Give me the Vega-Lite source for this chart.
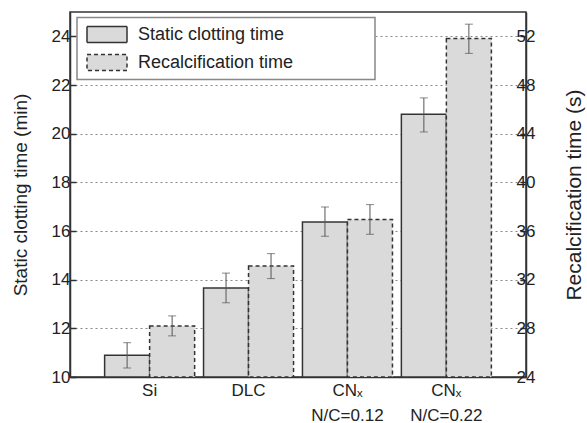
{
  "$schema": "https://vega.github.io/schema/vega-lite/v6.json",
  "width": 456,
  "height": 365,
  "autosize": {"type": "none"},
  "padding": {"left": 70, "top": 12, "right": 61, "bottom": 46},
  "background": "white",
  "config": {
    "font": "Liberation Sans",
    "view": {"stroke": "#333", "strokeWidth": 1.5},
    "axis": {"labelColor": "#222", "titleColor": "#222", "titleFontWeight": "normal", "domainColor": "#333", "domainWidth": 1.5, "tickColor": "#333", "tickWidth": 1.5},
    "legend": {
      "orient": "none", "legendX": 7, "legendY": 5.5,
      "fillColor": "white", "strokeColor": "#888", "strokeWidth": 1.5, "padding": 6,
      "symbolType": "M-2,-0.8H2V0.8H-2Z", "symbolSize": 400,
      "symbolStrokeColor": "#333", "symbolStrokeWidth": 1.5,
      "labelFontSize": 18, "labelColor": "#222", "rowPadding": 6,
      "symbolOffset": 13, "labelOffset": 20,
      "labelLimit": 400
    }
  },
  "data": {
    "values": [
      {"group": "Si", "series": "Static clotting time", "value": 10.89, "lo": 10.37, "hi": 11.41},
      {"group": "Si", "series": "Recalcification time", "value": 28.2, "lo": 27.38, "hi": 29.02},
      {"group": "DLC", "series": "Static clotting time", "value": 13.66, "lo": 13.05, "hi": 14.27},
      {"group": "DLC", "series": "Recalcification time", "value": 33.12, "lo": 32.09, "hi": 34.14},
      {"group": "CNₓ|N/C=0.12", "series": "Static clotting time", "value": 16.37, "lo": 15.78, "hi": 16.99},
      {"group": "CNₓ|N/C=0.12", "series": "Recalcification time", "value": 36.94, "lo": 35.73, "hi": 38.17},
      {"group": "CNₓ|N/C=0.22", "series": "Static clotting time", "value": 20.8, "lo": 20.07, "hi": 21.47},
      {"group": "CNₓ|N/C=0.22", "series": "Recalcification time", "value": 51.82, "lo": 50.6, "hi": 53.0}
    ]
  },
  "encoding": {
    "x": {
      "field": "group", "type": "nominal",
      "sort": ["Si", "DLC", "CNₓ|N/C=0.12", "CNₓ|N/C=0.22"],
      "scale": {"paddingInner": 0.09, "paddingOuter": 0.35},
      "axis": {"title": null, "labelAngle": 0, "ticks": false, "labelExpr": "split(datum.label, '|')", "labelFontSize": 17, "labelPadding": 5, "labelLineHeight": 25, "labelBaseline": "top"}
    },
    "xOffset": {
      "field": "series", "type": "nominal",
      "sort": ["Static clotting time", "Recalcification time"],
      "scale": {"paddingInner": 0, "paddingOuter": 0}
    }
  },
  "layer": [
    {
      "transform": [{"filter": "datum.series === 'Static clotting time'"}],
      "layer": [
        {
          "mark": {"type": "bar", "stroke": "#333", "strokeWidth": 1.5},
          "encoding": {
            "y": {
              "field": "value", "type": "quantitative",
              "scale": {"domain": [10, 25], "nice": false, "zero": false},
              "axis": {
                "title": "Static clotting time (min)", "titleFontSize": 19, "titlePadding": 21,
                "values": [10, 11, 12, 13, 14, 15, 16, 17, 18, 19, 20, 21, 22, 23, 24],
                "labelExpr": "datum.value % 2 == 0 ? datum.label : ''",
                "labelFontSize": 17, "labelPadding": 6,
                "tickSize": {"condition": {"test": "datum.value % 2 == 0", "value": -6}, "value": -3},
                "grid": true, "gridDash": [2, 3], "gridColor": "#888", "gridWidth": 1,
                "gridOpacity": {"condition": {"test": "datum.value % 2 == 0 && datum.value > 10", "value": 1}, "value": 0}
              }
            },
            "y2": {"datum": 10},
            "fill": {"field": "series", "type": "nominal", "scale": {"domain": ["Static clotting time", "Recalcification time"], "range": ["#dadada", "#dadada"]}, "title": null,
              "legend": {"encode": {"symbols": {"update": {"stroke": {"value": "#333"}, "strokeWidth": {"value": 1.5}}}, "labels": {"update": {"text": {"signal": "datum.label + '\u00a0\u00a0\u00a0\u00a0\u00a0\u00a0\u00a0\u00a0\u00a0\u00a0\u00a0\u00a0\u00a0\u00a0\u00a0\u200b'"}}}}}},
            "strokeDash": {"field": "series", "type": "nominal", "scale": {"domain": ["Static clotting time", "Recalcification time"], "range": [[1, 0], [4, 3]]}, "title": null,
              "legend": {"encode": {"symbols": {"update": {"stroke": {"value": "#333"}, "strokeWidth": {"value": 1.5}}}, "labels": {"update": {"text": {"signal": "datum.label + '\u00a0\u00a0\u00a0\u00a0\u00a0\u00a0\u00a0\u00a0\u00a0\u00a0\u00a0\u00a0\u00a0\u00a0\u00a0\u200b'"}}}}}}
          }
        },
        {
          "mark": {"type": "rule", "color": "#555", "strokeWidth": 1},
          "encoding": {
            "y": {"field": "lo", "type": "quantitative", "scale": {"domain": [10, 25], "nice": false, "zero": false}},
            "y2": {"field": "hi"}
          }
        },
        {
          "mark": {"type": "tick", "color": "#555", "size": 8, "thickness": 1},
          "encoding": {"y": {"field": "lo", "type": "quantitative", "scale": {"domain": [10, 25], "nice": false, "zero": false}}}
        },
        {
          "mark": {"type": "tick", "color": "#555", "size": 8, "thickness": 1},
          "encoding": {"y": {"field": "hi", "type": "quantitative", "scale": {"domain": [10, 25], "nice": false, "zero": false}}}
        }
      ]
    },
    {
      "transform": [{"filter": "datum.series === 'Recalcification time'"}],
      "layer": [
        {
          "mark": {"type": "bar", "stroke": "#333", "strokeWidth": 1.5},
          "encoding": {
            "y": {
              "field": "value", "type": "quantitative",
              "scale": {"domain": [24, 54], "nice": false, "zero": false},
              "axis": {
                "orient": "right",
                "title": "Recalcification time (s)", "titleFontSize": 21, "titlePadding": 50, "titleAngle": 270,
                "values": [24, 26, 28, 30, 32, 34, 36, 38, 40, 42, 44, 46, 48, 50, 52],
                "labelExpr": "datum.value % 4 == 0 ? datum.label : ''",
                "labelFontSize": 17, "labelPadding": -4,
                "tickSize": {"condition": {"test": "datum.value % 4 == 0", "value": -6}, "value": -3},
                "grid": false
              }
            },
            "y2": {"datum": 24},
            "fill": {"field": "series", "type": "nominal", "scale": {"domain": ["Static clotting time", "Recalcification time"], "range": ["#dadada", "#dadada"]}, "title": null,
              "legend": {"encode": {"symbols": {"update": {"stroke": {"value": "#333"}, "strokeWidth": {"value": 1.5}}}, "labels": {"update": {"text": {"signal": "datum.label + '\u00a0\u00a0\u00a0\u00a0\u00a0\u00a0\u00a0\u00a0\u00a0\u00a0\u00a0\u00a0\u00a0\u00a0\u00a0\u200b'"}}}}}},
            "strokeDash": {"field": "series", "type": "nominal", "scale": {"domain": ["Static clotting time", "Recalcification time"], "range": [[1, 0], [4, 3]]}, "title": null,
              "legend": {"encode": {"symbols": {"update": {"stroke": {"value": "#333"}, "strokeWidth": {"value": 1.5}}}, "labels": {"update": {"text": {"signal": "datum.label + '\u00a0\u00a0\u00a0\u00a0\u00a0\u00a0\u00a0\u00a0\u00a0\u00a0\u00a0\u00a0\u00a0\u00a0\u00a0\u200b'"}}}}}}
          }
        },
        {
          "mark": {"type": "rule", "color": "#555", "strokeWidth": 1},
          "encoding": {
            "y": {"field": "lo", "type": "quantitative", "scale": {"domain": [24, 54], "nice": false, "zero": false}},
            "y2": {"field": "hi"}
          }
        },
        {
          "mark": {"type": "tick", "color": "#555", "size": 8, "thickness": 1},
          "encoding": {"y": {"field": "lo", "type": "quantitative", "scale": {"domain": [24, 54], "nice": false, "zero": false}}}
        },
        {
          "mark": {"type": "tick", "color": "#555", "size": 8, "thickness": 1},
          "encoding": {"y": {"field": "hi", "type": "quantitative", "scale": {"domain": [24, 54], "nice": false, "zero": false}}}
        }
      ]
    }
  ],
  "resolve": {"scale": {"y": "independent"}, "axis": {"y": "independent"}}
}
